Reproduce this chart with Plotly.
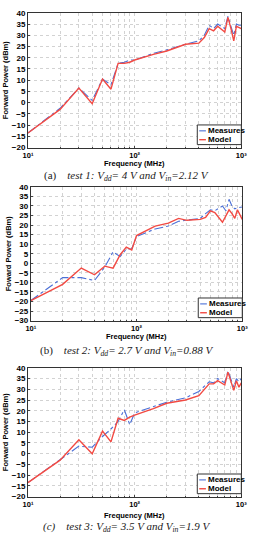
import plotly.graph_objects as go

# Panel (a) test 1
freq_a = [10, 20, 30, 40, 50, 60, 70, 80, 90, 100, 150, 200, 300, 400, 450, 500, 550, 600, 700, 750, 800, 850, 900, 950, 1000]
meas_a = [-13.5, -2.5, 6.5, 1.0, 10.5, 8.0, 17.5, 18.0, 19.0, 19.0, 22.0, 23.5, 26.0, 27.5, 30.0, 34.5, 33.0, 35.0, 33.0, 38.5, 34.0, 30.0, 35.0, 34.5, 34.5]
model_a = [-13.5, -3.0, 6.5, -0.5, 10.5, 6.0, 17.5, 17.5, 18.0, 19.0, 21.5, 23.0, 26.0, 26.5, 29.0, 33.0, 32.0, 34.0, 31.5, 38.0, 33.0, 27.5, 34.0, 33.5, 33.0]

# Panel (b) test 2
freq_b = [10, 20, 30, 40, 50, 60, 70, 80, 90, 100, 150, 200, 250, 300, 400, 450, 500, 550, 650, 700, 750, 800, 850, 900, 1000]
meas_b = [-19.5, -7.5, -7.5, -9.0, -2.0, 6.0, 3.5, 7.5, 7.5, 14.0, 18.0, 19.5, 22.0, 22.5, 23.5, 26.0, 28.0, 27.5, 30.0, 27.5, 33.5, 30.0, 28.5, 29.0, 29.5]
model_b = [-19.5, -11.0, -2.5, -6.0, -1.5, -2.5, 4.5, 8.5, 7.0, 14.5, 19.5, 21.0, 23.5, 22.5, 23.0, 24.0, 27.5, 26.5, 21.5, 25.0, 28.0, 26.0, 23.5, 28.0, 23.0]

# Panel (c) test 3
freq_c = [10, 20, 30, 40, 50, 60, 70, 80, 90, 100, 150, 200, 300, 400, 500, 550, 600, 700, 750, 850, 900, 950, 1000]
meas_c = [-13.5, -2.5, 3.5, 3.0, 8.0, 11.5, 15.0, 20.5, 13.5, 19.0, 22.0, 24.0, 26.0, 29.0, 33.5, 33.0, 35.0, 33.0, 38.5, 31.0, 35.0, 33.5, 35.0]
model_c = [-13.5, -3.0, 6.5, 0.0, 10.5, 5.5, 16.5, 15.5, 17.0, 18.0, 21.0, 23.5, 25.0, 27.0, 32.5, 32.5, 34.0, 32.0, 38.0, 29.5, 34.0, 31.0, 33.0]

major_vals = [10, 100, 1000]
major_text = ["10¹", "10²", "10³"]
minor_vals = [20, 30, 40, 50, 60, 70, 80, 90, 200, 300, 400, 500, 600, 700, 800, 900]

ytitles = ["Forward Power (dBm)", "Foward Power (dBm)", "Forward Power (dBm)"]
yranges = [(-20, 40), (-30, 40), (-20, 40)]
captions = [
    "(a)    <i>test 1: V<sub>dd</sub>= 4 V and V<sub>in</sub>=2.12 V</i>",
    "(b)    <i>test 2: V<sub>dd</sub>= 2.7 V and V<sub>in</sub>=0.88 V</i>",
    "<i>(c)    test 3: V<sub>dd</sub>= 3.5 V and V<sub>in</sub>=1.9 V</i>",
]
series_names = ["Measures", "Model"]

W, H = 254, 538
# pixel boxes (left, right, top, bottom)
boxes = [(24, 247, 9, 146), (27, 248, 186, 322), (24, 247, 370, 501)]
xlabel_y = [162.5, 338.5, 520]
caption_y = [175, 353, 532]

BLUE = "#4b6fd6"
RED = "#f24a43"
GRID = "#d2d2d2"
FONT = "Arial, Liberation Sans, sans-serif"

fig = go.Figure()
data = [(freq_a, meas_a, model_a), (freq_b, meas_b, model_b), (freq_c, meas_c, model_c)]
layout = dict(
    width=W, height=H, margin=dict(l=0, r=0, t=0, b=0),
    paper_bgcolor="white", plot_bgcolor="white", showlegend=False,
    font=dict(family=FONT, size=8, color="black"),
)
annotations = []
shapes = []
px = lambda x: x / W
py = lambda y: 1 - y / H
for i, (f, m, mo) in enumerate(data):
    n = "" if i == 0 else str(i + 1)
    l, r, t, b = boxes[i]
    fig.add_trace(go.Scatter(x=f, y=m, mode="lines", name=series_names[0],
                             line=dict(color=BLUE, width=1.1, dash="dashdot"),
                             xaxis="x" + n, yaxis="y" + n))
    fig.add_trace(go.Scatter(x=f, y=mo, mode="lines", name=series_names[1],
                             line=dict(color=RED, width=1.4),
                             xaxis="x" + n, yaxis="y" + n))
    layout["xaxis" + n] = dict(
        type="log", range=[0.9999, 3.0001], domain=[px(l), px(r)], anchor="y" + n,
        tickvals=major_vals, ticktext=major_text, ticks="inside", ticklen=2,
        showgrid=True, gridcolor=GRID, griddash="dot", gridwidth=1,
        minor=dict(tickvals=minor_vals, showgrid=True, gridcolor=GRID, griddash="dot",
                   gridwidth=1, ticks="inside", ticklen=1),
        showline=True, linecolor="#333", linewidth=1, mirror=True,
        tickfont=dict(size=7.5, weight="bold"), zeroline=False,
    )
    layout["yaxis" + n] = dict(
        range=list(yranges[i]), dtick=5, domain=[py(b), py(t)], anchor="x" + n,
        showgrid=True, gridcolor=GRID, griddash="dot", gridwidth=1,
        showline=True, linecolor="#333", linewidth=1, mirror=True,
        ticks="inside", ticklen=2, zeroline=False,
        tickfont=dict(size=8, weight="bold"),
        title=dict(text=ytitles[i], font=dict(size=7.5, weight="bold"), standoff=2),
    )
    annotations.append(dict(text="Frequency (MHz)", x=px((l + r) / 2), y=py(xlabel_y[i]),
                            xref="paper", yref="paper", xanchor="center", yanchor="middle",
                            showarrow=False, font=dict(size=7.5, weight="bold")))
    annotations.append(dict(text=captions[i], x=0.5, y=py(caption_y[i]),
                            xref="paper", yref="paper", xanchor="center", yanchor="middle",
                            showarrow=False,
                            font=dict(family="Times New Roman, Liberation Serif, serif", size=11, color="#222")))
    # manual compact legend box at lower right
    lx0, lx1 = r - 46, r
    ly0, ly1 = b - 23, b - 3
    shapes.append(dict(type="rect", xref="paper", yref="paper", x0=px(lx0), x1=px(lx1),
                       y0=py(ly1), y1=py(ly0), line=dict(color="#333", width=1), fillcolor="white"))
    for k, (col, dash, w) in enumerate([(BLUE, "dashdot", 1.1), (RED, "solid", 1.4)]):
        yy = ly0 + 6 + k * 9
        shapes.append(dict(type="line", xref="paper", yref="paper", x0=px(lx0 + 2), x1=px(lx0 + 9),
                           y0=py(yy), y1=py(yy), line=dict(color=col, width=w, dash=dash)))
        annotations.append(dict(text=series_names[k], x=px(lx0 + 9), y=py(yy), xref="paper", yref="paper",
                                xanchor="left", yanchor="middle", showarrow=False,
                                font=dict(size=8, weight="bold")))
layout["annotations"] = annotations
layout["shapes"] = shapes
fig.update_layout(**layout)
fig.write_html("out.html")
